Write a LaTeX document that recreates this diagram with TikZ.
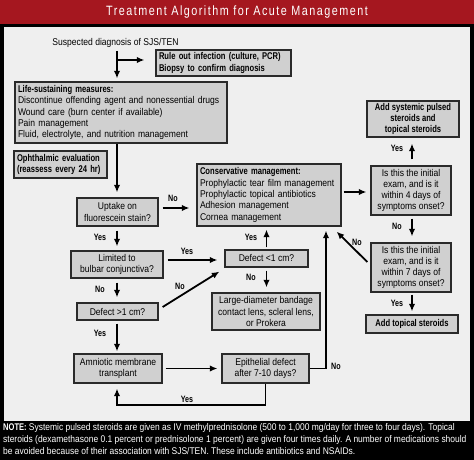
\documentclass[tikz,border=0pt]{standalone}
\usepackage{fontspec}
\setmainfont{Liberation Sans}[UprightFeatures={FakeStretch=0.873}, BoldFeatures={FakeStretch=0.777}]
\newfontfamily\titlefont{Liberation Sans}[FakeStretch=0.8, LetterSpace=11]
\usetikzlibrary{arrows.meta}
\definecolor{titlered}{HTML}{A5171F}
\definecolor{panel}{HTML}{EFEFEF}
\definecolor{boxfill}{HTML}{D0D0D0}
\definecolor{boxline}{HTML}{2A2A2A}
\begin{document}
\begin{tikzpicture}[x=1pt,y=-1pt,
  box/.style={draw=boxline, fill=boxfill, line width=1.3pt, inner xsep=3pt, inner ysep=1pt, align=center, font=\fontsize{9.8}{11.3}\selectfont},
  lbox/.style={box, align=left},
  bbox/.style={box, font=\bfseries\fontsize{9.8}{11.3}\selectfont},
  arr/.style={line width=1.8pt, -{Latex[length=7.5pt,width=6.5pt]}},
  lab/.style={font=\bfseries\fontsize{9.2}{9.2}\selectfont, inner sep=0pt}]
\useasboundingbox (0,0) rectangle (474,460);
\fill[black] (0,0) rectangle (474,460);
\fill[titlered] (0,0) rectangle (474,24);
\fill[panel] (4,27) rectangle (470,421);
\node[white, font=\titlefont\fontsize{13.5}{13.5}\selectfont] (title) at (237,12.5) {Treatment Algorithm for Acute Management};

\coordinate (col) at (117,0);
\coordinate (rc) at (412,0);
\coordinate (nx) at (326,0);
\coordinate (ny) at (0,405);
\coordinate (br) at (117,60);

\node[font=\fontsize{9.8}{11.3}\selectfont, inner sep=1pt] (susp) at (115.5,43) {Suspected diagnosis of SJS/TEN};
\node[lbox, font=\bfseries\fontsize{9.8}{11.3}\selectfont, text width=129pt, minimum height=26pt] (rule) at (223.5,63) {Rule out infection (culture, PCR)\\Biopsy to confirm diagnosis};
\node[lbox, text width=206pt, minimum height=61pt] (life) at (121,112.5) {\textbf{Life-sustaining measures:}\\Discontinue offending agent and nonessential drugs\\Wound care (burn center if available)\\Pain management\\Fluid, electrolyte, and nutrition management};
\node[lbox, font=\bfseries\fontsize{9.8}{11.3}\selectfont, text width=87pt, minimum height=27pt] (oph) at (60.5,164.5) {Ophthalmic evaluation\\(reassess every 24 hr)};
\node[box, minimum width=81pt, minimum height=28pt] (uptake) at (117.5,212) {Uptake on\\fluorescein stain?};
\node[lbox, text width=138pt, minimum height=62pt] (cons) at (269,195) {\textbf{Conservative management:}\\Prophylactic tear film management\\Prophylactic topical antibiotics\\Adhesion management\\Cornea management};
\node[box, minimum width=80pt, minimum height=49pt] (day4) at (411,190.5) {Is this the initial\\exam, and is it\\within 4 days of\\symptoms onset?};
\node[bbox, minimum width=92pt, minimum height=36pt] (sys) at (413,119) {Add systemic pulsed\\steroids and\\topical steroids};
\node[box, minimum width=80pt, minimum height=49pt] (day7) at (411,267.5) {Is this the initial\\exam, and is it\\within 7 days of\\symptoms onset?};
\node[bbox, minimum width=92pt, minimum height=18pt] (topical) at (412,324) {Add topical steroids};
\node[box, minimum width=92pt, minimum height=27pt] (limited) at (117,264.5) {Limited to\\bulbar conjunctiva?};
\node[box, minimum width=83pt, minimum height=17pt] (def1) at (266.5,258.5) {Defect <1 cm?};
\node[box, minimum width=108pt, minimum height=37pt] (large) at (266,311.5) {Large-diameter bandage\\contact lens, scleral lens,\\or Prokera};
\node[box, minimum width=81pt, minimum height=17pt] (defgt) at (117.5,311.5) {Defect >1 cm?};
\node[box, minimum width=88pt, minimum height=29pt] (amnio) at (118,368.5) {Amniotic membrane\\transplant};
\node[box, minimum width=87pt, minimum height=29pt] (epi) at (265.5,368.5) {Epithelial defect\\after 7-10 days?};

% connectors
\draw[arr, shorten <=2pt, shorten >=3pt] (col |- susp.south) -- (col |- life.north);
\draw[arr, shorten >=11pt] (br) -- (br -| rule.west);
\draw[arr, shorten >=5pt] (col |- life.south) -- (col |- uptake.north);
\draw[arr, shorten <=4pt, shorten >=4pt] (col |- uptake.south) -- (col |- limited.north);
\draw[arr, shorten <=4pt, shorten >=7pt] ([yshift=4pt]uptake.east) -- ([yshift=4pt]uptake.east -| cons.west);
\draw[arr, shorten <=4pt, shorten >=7pt] ([yshift=4.5pt]limited.east) -- ([yshift=4.5pt]limited.east -| def1.west);
\draw[arr, shorten <=4pt, shorten >=5pt] (col |- limited.south) -- (col |- defgt.north);
\draw[arr] ([shift={(4,-4.5)}]defgt.east) -- ([shift={(-5,4)}]def1.south west);
\draw[arr, shorten <=2pt, shorten >=3pt] (def1.north) -- (def1.north |- cons.south);
\draw[arr, shorten <=3pt, shorten >=5pt] (def1.south) -- (def1.south |- large.north);
\draw[arr, shorten <=3pt, shorten >=2pt] (col |- defgt.south) -- (col |- amnio.north);
\draw[arr, shorten <=3pt, shorten >=4pt] (amnio.east) -- (amnio.east -| epi.west);
\draw[arr, shorten >=4pt] (epi.east) -- (epi.east -| nx) -- (nx |- cons.south);
\draw[arr, shorten >=5pt] (epi.south) -- (epi.south |- ny) -- (col |- ny) -- (col |- amnio.south);
\draw[arr, shorten <=2pt, shorten >=4pt] ([yshift=3pt]cons.east) -- ([yshift=3pt]cons.east -| day4.west);
\draw[arr, shorten <=6pt, shorten >=6pt] (rc |- day4.north) -- (rc |- sys.south);
\draw[arr, shorten <=3pt, shorten >=6pt] (rc |- day4.south) -- (rc |- day7.north);
\draw[arr, shorten <=2pt, shorten >=3pt] (rc |- day7.south) -- (rc |- topical.north);
\draw[arr] ([shift={(-3,-5.5)}]day7.west) -- ([shift={(-5,5)}]cons.south east);

% labels
\node[lab] (l1) at (173,198) {No};
\node[lab] (l2) at (100,237) {Yes};
\node[lab] (l3) at (187,251) {Yes};
\node[lab] (l4) at (100,289) {No};
\node[lab] (l5) at (180,286) {No};
\node[lab] (l6) at (251,237) {Yes};
\node[lab] (l7) at (251,277) {No};
\node[lab] (l8) at (100,333) {Yes};
\node[lab] (l9) at (336,366) {No};
\node[lab] (l10) at (187,399) {Yes};
\node[lab] (l11) at (397,148) {Yes};
\node[lab] (l12) at (397,226) {No};
\node[lab] (l13) at (357,242) {No};
\node[lab] (l14) at (397,303) {Yes};

\node[anchor=north west, white, align=left, inner sep=0pt, font=\fontsize{9.7}{11.8}\selectfont] (note) at (3,423.5) {\textbf{NOTE:} Systemic pulsed steroids are given as IV methylprednisolone (500 to 1,000 mg/day for three to four days). Topical\\steroids (dexamethasone 0.1 percent or prednisolone 1 percent) are given four times daily. A number of medications should\\be avoided because of their association with SJS/TEN. These include antibiotics and NSAIDs.};
\end{tikzpicture}
\end{document}
